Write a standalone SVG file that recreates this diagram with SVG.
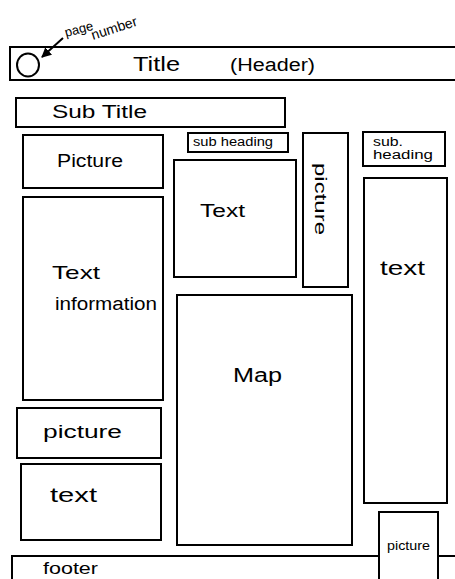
<svg xmlns="http://www.w3.org/2000/svg" width="455" height="579" viewBox="0 0 455 579">
<style>
.box{fill:#fff;stroke:#000;stroke-width:2}
.t{font-family:"Liberation Sans",Arial,sans-serif;fill:#000}
.conn{fill:none;stroke:#000;stroke-width:2}
</style>
<defs>
<marker id="ah" viewBox="0 0 10 10" refX="9" refY="5" markerWidth="5" markerHeight="5" orient="auto">
<path d="M0,0 L10,5 L0,10 z" fill="#000"/>
</marker>
</defs>
<rect width="455" height="579" fill="#fff"/>
<g id="header">
<rect class="box" x="10" y="47" width="450" height="33"/>
<text class="t" x="133" y="71" font-size="20" textLength="47" lengthAdjust="spacingAndGlyphs">Title</text>
<text class="t" x="230" y="71" font-size="18" textLength="85" lengthAdjust="spacingAndGlyphs">(Header)</text>
</g>
<g id="page-number">
<ellipse cx="28" cy="65" rx="11" ry="11.5" fill="none" stroke="#000" stroke-width="2"/>
<text class="t" x="66" y="37" font-size="13" transform="rotate(-15 66 37)">page</text>
<text class="t" x="93" y="40" font-size="14" transform="rotate(-18 93 40)">number</text>
</g>
<g id="sub-title">
<rect class="box" x="16" y="98" width="269" height="29"/>
<text class="t" x="52" y="118" font-size="18" textLength="95" lengthAdjust="spacingAndGlyphs">Sub Title</text>
</g>
<g id="picture-1">
<rect class="box" x="23" y="135" width="140" height="53"/>
<text class="t" x="57" y="167" font-size="18" textLength="66" lengthAdjust="spacingAndGlyphs">Picture</text>
</g>
<g id="sub-heading-1">
<rect class="box" x="188" y="133" width="100" height="19"/>
<text class="t" x="193" y="146" font-size="12" textLength="80" lengthAdjust="spacingAndGlyphs">sub heading</text>
</g>
<g id="text-1">
<rect class="box" x="174" y="160" width="122" height="117"/>
<text class="t" x="200" y="217" font-size="18" textLength="45" lengthAdjust="spacingAndGlyphs">Text</text>
</g>
<g id="picture-vertical">
<rect class="box" x="303" y="133" width="45" height="154"/>
<text class="t" x="0" y="0" font-size="16" textLength="72" lengthAdjust="spacingAndGlyphs" transform="translate(315 163) rotate(90)">picture</text>
</g>
<g id="sub-heading-2">
<rect class="box" x="363" y="132" width="82" height="34"/>
<text class="t" x="373" y="146" font-size="12" textLength="30" lengthAdjust="spacingAndGlyphs">sub.</text>
<text class="t" x="373" y="159" font-size="12" textLength="60" lengthAdjust="spacingAndGlyphs">heading</text>
</g>
<g id="text-right">
<rect class="box" x="364" y="178" width="83" height="325"/>
<text class="t" x="380" y="275" font-size="20" textLength="45" lengthAdjust="spacingAndGlyphs">text</text>
</g>
<g id="text-information">
<rect class="box" x="23" y="197" width="140" height="203"/>
<text class="t" x="52" y="279" font-size="19" textLength="48" lengthAdjust="spacingAndGlyphs">Text</text>
<text class="t" x="55" y="310" font-size="18" textLength="102" lengthAdjust="spacingAndGlyphs">information</text>
</g>
<g id="map">
<rect class="box" x="177" y="295" width="175" height="250"/>
<text class="t" x="233" y="382" font-size="20" textLength="49" lengthAdjust="spacingAndGlyphs">Map</text>
</g>
<g id="picture-2">
<rect class="box" x="17" y="408" width="144" height="50"/>
<text class="t" x="43" y="438" font-size="18" textLength="79" lengthAdjust="spacingAndGlyphs">picture</text>
</g>
<g id="text-2">
<rect class="box" x="21" y="464" width="140" height="76"/>
<text class="t" x="50" y="502" font-size="20" textLength="47" lengthAdjust="spacingAndGlyphs">text</text>
</g>
<g id="footer">
<rect class="box" x="12" y="556" width="450" height="30"/>
<text class="t" x="43" y="574" font-size="16" textLength="55" lengthAdjust="spacingAndGlyphs">footer</text>
</g>
<g id="picture-3">
<rect class="box" x="379" y="512" width="59" height="75"/>
<text class="t" x="387" y="550" font-size="13" textLength="43" lengthAdjust="spacingAndGlyphs">picture</text>
</g>
<g id="connectors">
<path class="conn" d="M63,38 L42,57" marker-end="url(#ah)"/>
</g>
</svg>
